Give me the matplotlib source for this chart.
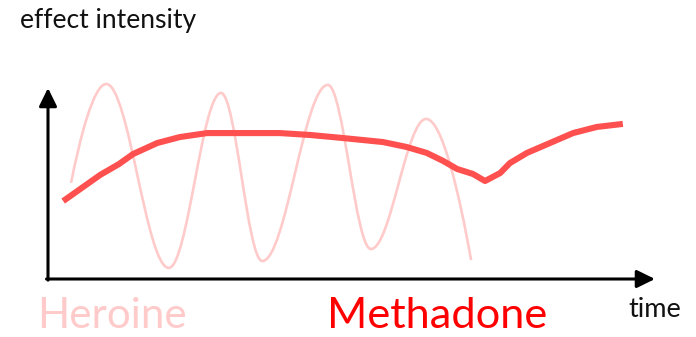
import matplotlib
matplotlib.use("Agg")
import matplotlib.pyplot as plt
from matplotlib.path import Path
from matplotlib.patches import PathPatch

plt.rcParams['font.family'] = ['Lato', 'DejaVu Sans']

# Heroine: rapid swings between highs and lows (turning points, time vs. intensity)
heroine_time = [3.8, 9.6, 19.9, 28.5, 35.3, 46.1, 53.2, 62.3, 69.7]
heroine_effect = [50.3, 102.1, 5.8, 97.4, 9.4, 101.6, 15.7, 83.8, 9.9]

# Methadone: steady, flat effect
methadone_time = [2.5, 8.6, 11.7, 14.0, 18.0, 21.7, 26.2, 31.1, 34.9, 38.2, 43.2,
                  48.6, 55.2, 59.1, 62.4, 65.1, 67.4, 70.0, 72.0, 74.5, 76.1,
                  78.9, 82.7, 86.5, 90.4, 94.7]
methadone_effect = [40.8, 54.5, 60.2, 65.4, 71.2, 74.3, 76.4, 76.4, 76.4, 76.4, 75.4,
                    73.8, 71.7, 69.1, 66.0, 61.8, 57.6, 55.0, 51.3, 55.5, 60.7,
                    66.0, 71.2, 76.4, 79.6, 81.2]

y_label = "effect intensity"
x_label = "time"
series_names = ["Heroine", "Methadone"]

W, H = 696, 337
fig = plt.figure(figsize=(W / 100, H / 100), dpi=100)

# plot area: origin of the arrows to their tips (in pixels)
ox, oy, tx, ty = 48, 279, 655, 88
ax = fig.add_axes([ox / W, (H - oy) / H, (tx - ox) / W, (oy - ty) / H])
ax.set_xlim(0, 100)
ax.set_ylim(0, 100)
ax.axis('off')

heroine_color = '#FFCACA'
methadone_color = '#FF5050'

# smooth wave through the turning points using cubic Bezier segments
verts = [(heroine_time[0], heroine_effect[0])]
codes = [Path.MOVETO]
for i in range(len(heroine_time) - 1):
    x0, y0 = heroine_time[i], heroine_effect[i]
    x1, y1 = heroine_time[i + 1], heroine_effect[i + 1]
    dx = x1 - x0
    if i == 0:
        c1 = (x0 + 0.25 * dx, y0 + 0.45 * (y1 - y0))
    else:
        c1 = (x0 + 0.36 * dx, y0)
    if i == len(heroine_time) - 2:
        c2 = (x1 - 0.25 * dx, y1 - 0.45 * (y1 - y0))
    else:
        c2 = (x1 - 0.36 * dx, y1)
    verts += [c1, c2, (x1, y1)]
    codes += [Path.CURVE4] * 3
ax.add_patch(PathPatch(Path(verts, codes), facecolor='none', edgecolor=heroine_color,
                       lw=1.9, clip_on=False, capstyle='butt'))

ax.plot(methadone_time, methadone_effect, color=methadone_color, lw=4.4,
        solid_joinstyle='round', solid_capstyle='butt', clip_on=False)

# axis arrows
arrow_kw = dict(arrowstyle='-|>,head_length=0.55,head_width=0.27', lw=2.2,
                color='black', mutation_scale=20, shrinkA=0, shrinkB=0)
ax.annotate('', xy=(0, 100), xytext=(0, -0.6), xycoords='data',
            arrowprops=arrow_kw, annotation_clip=False)
ax.annotate('', xy=(100, 0), xytext=(-0.25, 0), xycoords='data',
            arrowprops=arrow_kw, annotation_clip=False)

# labels in pixel space
ov = fig.add_axes([0, 0, 1, 1])
ov.set_xlim(0, W)
ov.set_ylim(H, 0)
ov.axis('off')
ov.patch.set_alpha(0)

labels = [
    (y_label, 20, 28, 177, '#111111'),
    (x_label, 628, 317, 53, '#111111'),
    (series_names[0], 37, 328, 150, heroine_color),
    (series_names[1], 327, 328, 221, '#FF0000'),
]
fig.canvas.draw()
renderer = fig.canvas.get_renderer()
for text, x, y, width, color in labels:
    t = ov.text(x, y, text, fontsize=20, color=color, ha='left', va='baseline')
    w = t.get_window_extent(renderer).width
    t.set_fontsize(20 * width / w)

fig.savefig('out.png', dpi=100)
